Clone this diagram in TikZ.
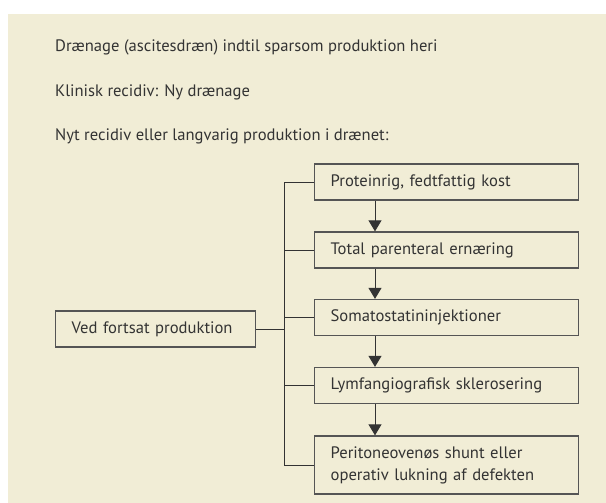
\documentclass[tikz,border=0pt]{standalone}
\usepackage{fontspec}
\setmainfont{PT Sans}
\usepackage{tikz}
\usetikzlibrary{arrows.meta,positioning}
\definecolor{bgcol}{HTML}{F1EDD6}
\definecolor{inkcol}{HTML}{333333}
\definecolor{framecol}{HTML}{555555}

\begin{document}
\begin{tikzpicture}[x=1pt,y=-1pt,font=\fontsize{16.6}{22}\selectfont,text=inkcol]
	\tikzset{box/.style={draw=framecol,line width=1.3pt,fill=bgcol,align=left,anchor=west,
		inner xsep=16pt,minimum height=36pt,text width=232pt},
		line/.style={draw=inkcol,line width=1pt}}
	\useasboundingbox (0,0) rectangle (606,503);
	\fill[bgcol] (8,14) rectangle (606,503);
	% tekst
	\node[anchor=base west,inner sep=0pt] (t1) at (55,52) {Drænage (ascitesdræn) indtil sparsom produktion heri};
	\node[anchor=base west,inner sep=0pt] (t2) at (55,97) {Klinisk recidiv: Ny drænage};
	\node[anchor=base west,inner sep=0pt] (t3) at (55,141) {Nyt recidiv eller langvarig produktion i drænet:};
	% kasser
	\node[box,text width=168pt] (ved) at (55,329) {Ved fortsat produktion};
	\node[box] (p1) at (314,182) {Proteinrig, fedtfattig kost};
	\node[box] (p2) at (314,250) {Total parenteral ernæring};
	\node[box] (p3) at (314,317.5) {Somatostatininjektioner};
	\node[box] (p4) at (314,385.5) {Lymfangiografisk sklerosering};
	\node[box,minimum height=58pt] (p5) at (314,465) {Peritoneovenøs shunt eller\\operativ lukning af defekten};
	\coordinate (bus) at (284,0);
	\coordinate (ax) at (375,0);
	% forbindelser
	\path[line] (ved.east) -- (ved.east -| bus);
	\path[line] (p1.west) -- (p1.west -| bus) -- (p5.west -| bus) -- (p5.west);
	\foreach \i in {2,3,4}
		\path[line] (p\i.west) -- (p\i.west -| bus);
	\foreach \a/\b in {p1/p2,p2/p3,p3/p4,p4/p5}
		\path[line,-{Triangle[width=13pt,length=11pt]}] (\a.south -| ax) -- (\b.north -| ax);
\end{tikzpicture}
\end{document}
